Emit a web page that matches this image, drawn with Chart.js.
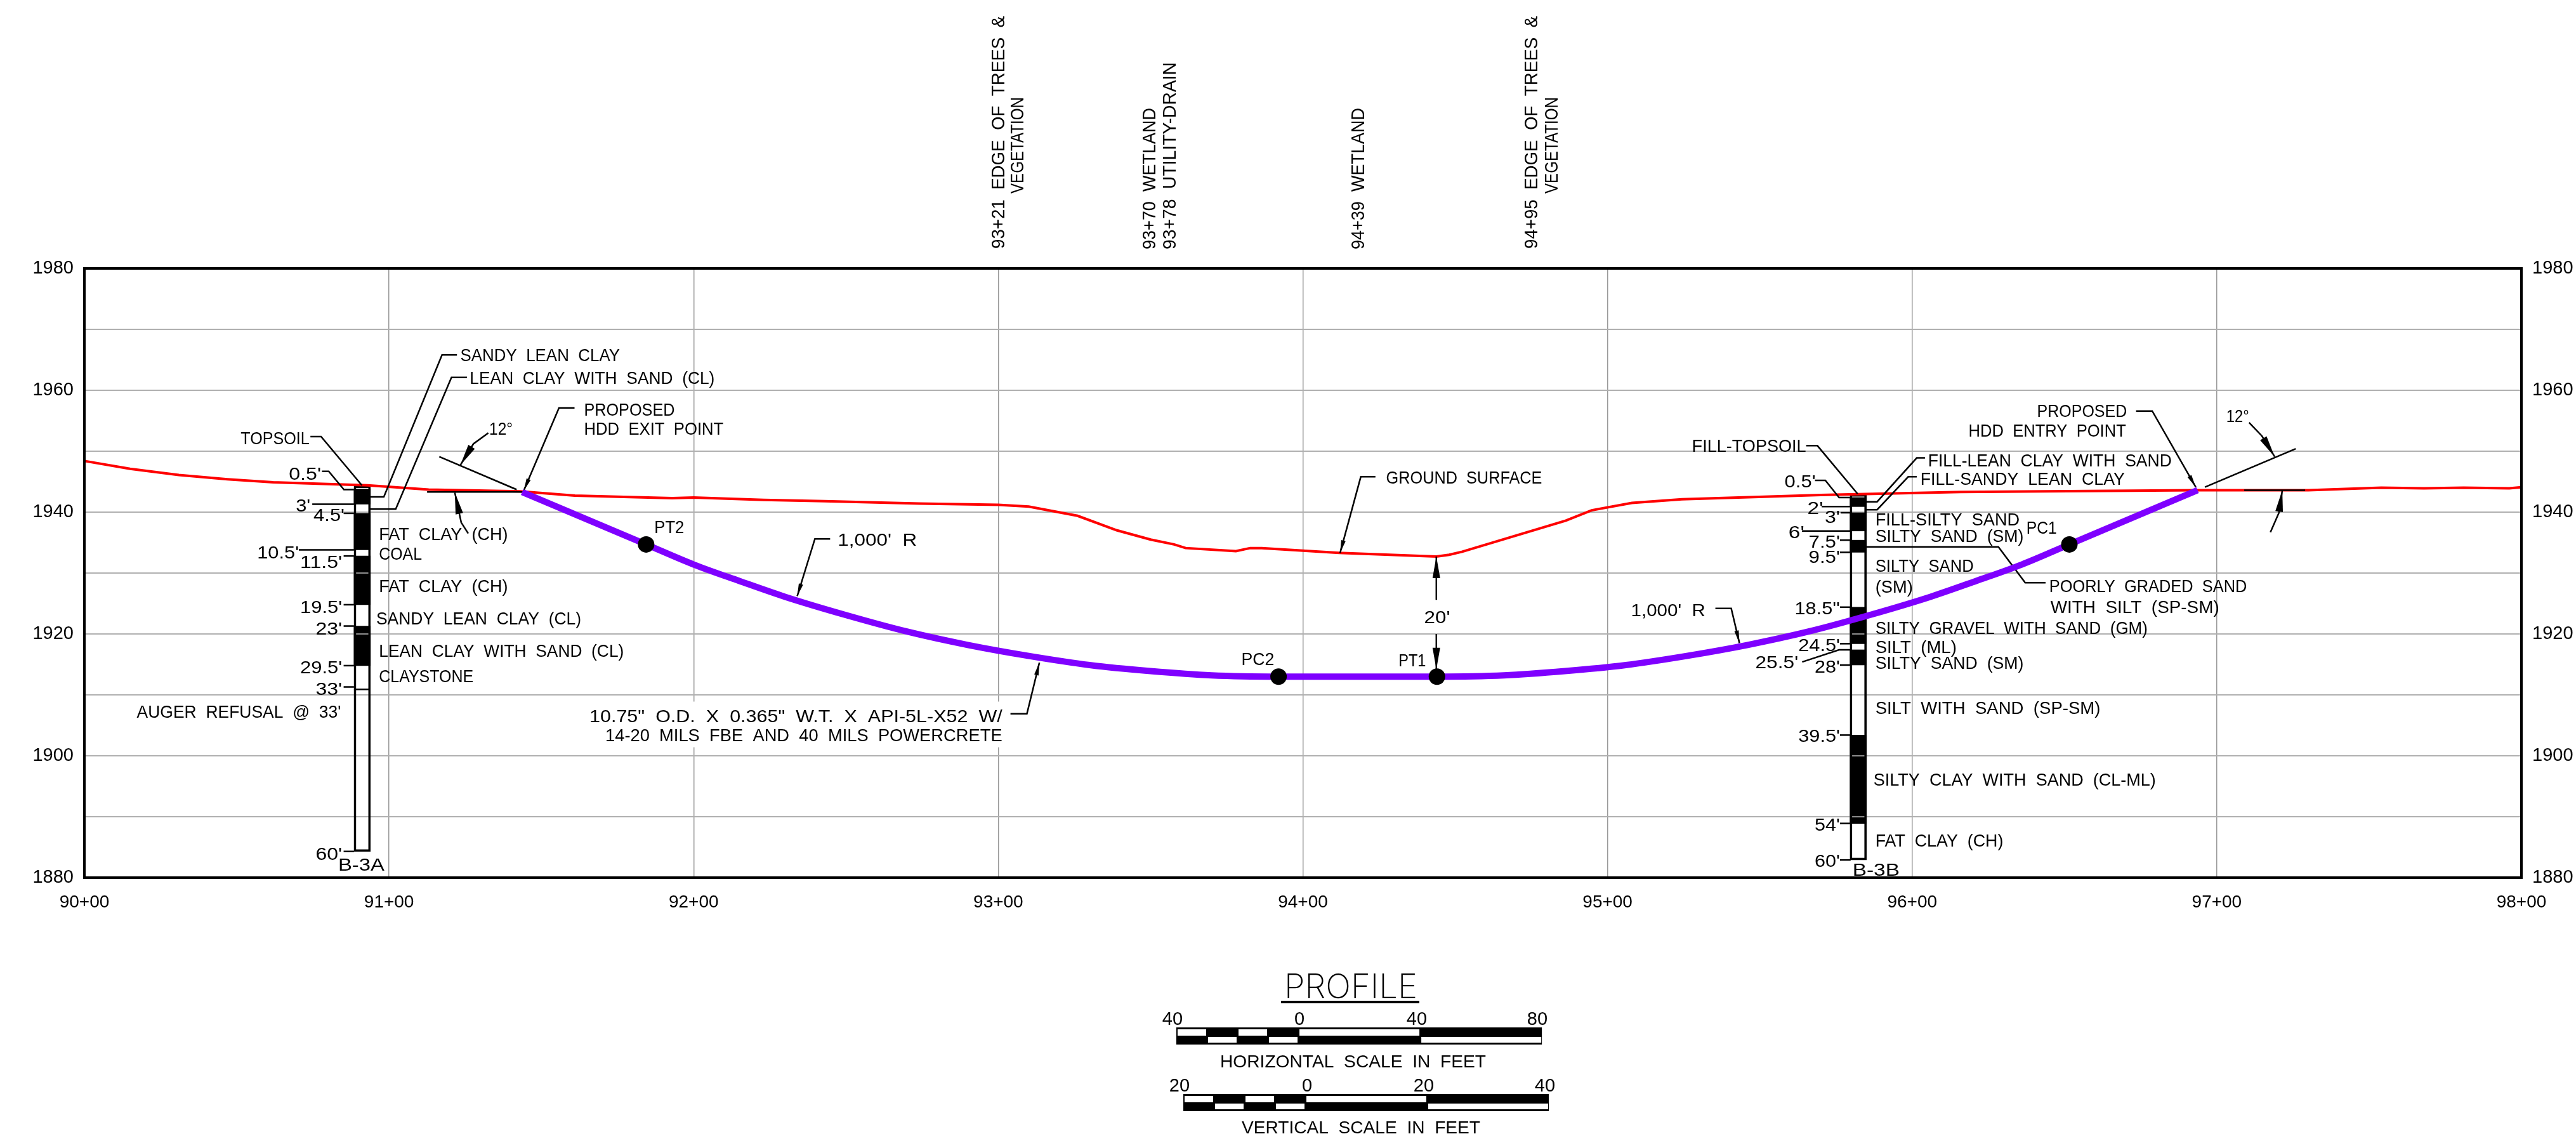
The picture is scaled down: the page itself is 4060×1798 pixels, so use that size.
<!DOCTYPE html>
<html>
<head>
<meta charset="utf-8">
<title>Profile</title>
<script src="https://cdn.jsdelivr.net/npm/chart.js@4/dist/chart.umd.min.js"></script>
<style>
  html, body { margin: 0; padding: 0; background: #fff; }
  canvas { display: block; }
</style>
</head>
<body>
<canvas id="profile" width="4060" height="1798"></canvas>
<script>
// axis
const xTickLabels = ['90+00', '91+00', '92+00', '93+00', '94+00', '95+00', '96+00', '97+00', '98+00'];
const yTickLabels = [1880, 1900, 1920, 1940, 1960, 1980];

// ground surface (station in feet, elevation in feet)
const groundStations = [9000, 9015, 9031, 9047, 9062, 9093, 9113, 9143, 9161, 9193, 9200, 9223, 9243, 9274, 9300, 9310, 9326, 9339, 9350, 9357.7, 9361.5, 9378, 9382.7, 9386.5, 9411.9, 9443.8, 9448, 9452.3, 9486.3, 9494.8, 9508, 9524.4, 9570, 9616, 9693, 9730, 9754, 9768, 9781, 9796, 9800];
const groundElevations = [1948.4, 1947.1, 1946.1, 1945.4, 1944.9, 1944.4, 1943.7, 1943.4, 1942.7, 1942.3, 1942.4, 1942, 1941.8, 1941.4, 1941.2, 1940.9, 1939.4, 1937, 1935.5, 1934.7, 1934.1, 1933.6, 1934.1, 1934.1, 1933.3, 1932.7, 1933, 1933.5, 1938.6, 1940.3, 1941.5, 1942.1, 1942.8, 1943.3, 1943.6, 1943.6, 1944, 1943.9, 1944, 1943.9, 1944.1];

// proposed pipe
const pipeStations = [9143.7, 9184.4, 9200, 9215, 9230, 9250, 9270, 9290, 9310, 9330, 9350, 9370, 9392, 9444, 9466, 9486, 9506, 9526, 9546, 9566, 9586, 9606, 9621, 9636, 9651.6, 9693.7];
const pipeElevations = [1943.3, 1934.7, 1931.4, 1928.7, 1926.1, 1923.1, 1920.4, 1918.2, 1916.4, 1914.9, 1913.9, 1913.2, 1913, 1913, 1913.2, 1913.9, 1914.9, 1916.4, 1918.2, 1920.4, 1923.1, 1926.1, 1928.7, 1931.4, 1934.7, 1943.6];

const curveNames = ['PT2', 'PC2', 'PT1', 'PC1'];
const curveStations = [9184.4, 9392, 9444, 9651.6];
const curveElevations = [1934.7, 1913, 1913, 1934.7];

// borings: depth below top of hole
const boreAStation = 9091.2, boreATop = 1944.3, boreABottom = 60;
const boreADark = [[0.5, 3], [4.5, 10.5], [11.5, 19.5], [23, 29.5]];
const boreATicks = [[4.5, 9085.1], [11.5, 9085.1], [19.5, 9085.1], [23, 9085.1], [29.5, 9085.1], [33, 9085.1], [60, 9085.1], [3, 9074.8], [10.5, 9070.4]];
const boreAGridMarks = [1930, 1920];

const boreBStation = 9582.3, boreBTop = 1942.9, boreBBottom = 60;
const boreBDark = [[0.5, 2], [3, 6], [7.5, 9.5], [18.5, 24.5], [25.5, 28], [39.5, 54]];
const boreBTicks = [[2, 9570.3], [3, 9576.5], [6, 9563.8], [7.5, 9576.3], [9.5, 9576.3], [18.5, 9576.3], [24.5, 9576.3], [28, 9576.3], [39.5, 9576.3], [54, 9576.3], [60, 9576.3]];
const boreBGridMarks = [1920, 1900, 1890];

// leader lines, [station, elevation] per point
const plainLeaders = [
  [[9074.2, 1952.4], [9077.7, 1952.4], [9091.1, 1944.4]],
  [[9078, 1946.7], [9080.2, 1946.7], [9085.2, 1943.7], [9088.5, 1943.7]],
  [[9122.3, 1965.8], [9117.4, 1965.8], [9098.3, 1942.5], [9093.8, 1942.5]],
  [[9125.6, 1962.1], [9120.5, 1962.1], [9102.2, 1940.5], [9093.8, 1940.5]],
  [[9088.5, 1910.9], [9093.8, 1910.9]],
  [[9116.5, 1949.1], [9141.9, 1943.7]],
  [[9112.5, 1943.3], [9144.2, 1943.3]],
  [[9568.1, 1945.2], [9571.5, 1945.2], [9576, 1942.4], [9579.6, 1942.4]],
  [[9565.2, 1950.9], [9568.9, 1950.9], [9582.1, 1943]],
  [[9604.2, 1948.9], [9601.5, 1948.9], [9588.5, 1941.7], [9585, 1941.7]],
  [[9601.5, 1945.8], [9598.7, 1945.8], [9588.5, 1940.4], [9585, 1940.4]],
  [[9584.8, 1934.3], [9628.3, 1934.3], [9637.1, 1928.4], [9643.8, 1928.4]],
  [[9563.9, 1915.4], [9576, 1917.4], [9579.8, 1917.4]],
  [[9696.1, 1944.1], [9725.9, 1950.4]],
  [[9709, 1943.6], [9729, 1943.6]]
];
const smallArrows = [
  [[9160.9, 1957.1], [9155.8, 1957.1], [9144.2, 1943.5]],
  [[9244.8, 1935.6], [9239.8, 1935.6], [9234, 1926.2]],
  [[9304, 1906.9], [9309.4, 1906.9], [9313.5, 1915.3]],
  [[9423.8, 1945.8], [9419, 1945.8], [9412.2, 1933.3]],
  [[9535.4, 1924.2], [9540.6, 1924.2], [9543.3, 1918.5]],
  [[9673.5, 1956.6], [9678.8, 1956.6], [9693.1, 1944.1]]
];
const bigArrows = [
  [[9132.6, 1953], [9127.7, 1951.2], [9123.4, 1947.7]],
  [[9126, 1936.5], [9123.7, 1938.3], [9121.6, 1943.2]],
  [[9443.8, 1925.6], [9443.8, 1932.7]],
  [[9443.8, 1920], [9443.8, 1914.2]],
  [[9710.6, 1954.7], [9714.8, 1952.5], [9719, 1949.1]],
  [[9717.6, 1936.7], [9720.4, 1939.9], [9721.5, 1943.6]]
];

// notes: from station, to station, baseline elevation, text
const leftNotes = [
  [9123.4, 9175.8, 1964.8, 'SANDY LEAN CLAY'],
  [9126.5, 9206.9, 1961, 'LEAN CLAY WITH SAND (CL)'],
  [9164, 9193.8, 1955.8, 'PROPOSED'],
  [9164, 9209.8, 1952.7, 'HDD EXIT POINT'],
  [9132.9, 9140.6, 1952.7, '12°'],
  [9051.3, 9073.9, 1951.1, 'TOPSOIL'],
  [9067.1, 9077.7, 1945.3, "0.5'"],
  [9069.4, 9074.2, 1940.1, "3'"],
  [9075.2, 9085.4, 1938.5, "4.5'"],
  [9096.7, 9139, 1935.4, 'FAT CLAY (CH)'],
  [9056.7, 9070.4, 1932.4, "10.5'"],
  [9096.7, 9110.8, 1932.2, 'COAL'],
  [9070.8, 9084.6, 1930.8, "11.5'"],
  [9096.7, 9139, 1926.9, 'FAT CLAY (CH)'],
  [9070.8, 9084.6, 1923.4, "19.5'"],
  [9095.8, 9163.1, 1921.6, 'SANDY LEAN CLAY (CL)'],
  [9075.9, 9084.6, 1919.9, "23'"],
  [9096.7, 9177.1, 1916.3, 'LEAN CLAY WITH SAND (CL)'],
  [9070.8, 9084.6, 1913.5, "29.5'"],
  [9096.7, 9127.7, 1912.1, 'CLAYSTONE'],
  [9075.9, 9084.6, 1910, "33'"],
  [9017.2, 9084.2, 1906.2, "AUGER REFUSAL @ 33'"],
  [9075.9, 9084.6, 1882.9, "60'"],
  [9083.3, 9098.5, 1881.1, 'B-3A'],
  [9187.1, 9196.9, 1936.6, 'PT2'],
  [9247.3, 9273.3, 1934.5, "1,000' R"],
  [9165.8, 9301.3, 1905.5, '10.75" O.D. X 0.365" W.T. X API-5L-X52 W/'],
  [9171, 9301.3, 1902.4, '14-20 MILS FBE AND 40 MILS POWERCRETE']
];
const middleNotes = [
  [9379.8, 9390.6, 1914.9, 'PC2'],
  [9431.4, 9440.4, 1914.7, 'PT1'],
  [9427.3, 9478.5, 1944.7, 'GROUND SURFACE'],
  [9439.8, 9448.3, 1921.8, "20'"]
];
const rightNotes = [
  [9641, 9670.5, 1955.6, 'PROPOSED'],
  [9618.5, 9670.2, 1952.4, 'HDD ENTRY POINT'],
  [9703.1, 9710.6, 1954.8, '12°'],
  [9527.7, 9565.2, 1949.9, 'FILL-TOPSOIL'],
  [9605.2, 9685.2, 1947.5, 'FILL-LEAN CLAY WITH SAND'],
  [9602.7, 9669.8, 1944.5, 'FILL-SANDY LEAN CLAY'],
  [9558.1, 9568.3, 1944.1, "0.5'"],
  [9565.6, 9570.8, 1939.7, "2'"],
  [9571.3, 9576.3, 1938.2, "3'"],
  [9587.9, 9635.3, 1937.8, 'FILL-SILTY SAND'],
  [9637.5, 9647.5, 1936.5, 'PC1'],
  [9559.4, 9564.6, 1935.7, "6'"],
  [9587.9, 9636.6, 1935.1, 'SILTY SAND (SM)'],
  [9566, 9576.3, 1934.2, "7.5'"],
  [9566, 9576.3, 1931.7, "9.5'"],
  [9587.9, 9620.2, 1930.2, 'SILTY SAND'],
  [9587.9, 9600.2, 1926.8, '(SM)'],
  [9645, 9709.9, 1926.9, 'POORLY GRADED SAND'],
  [9645.4, 9700.8, 1923.4, 'WITH SILT (SP-SM)'],
  [9561.4, 9576.3, 1923.2, "18.5''"],
  [9507.7, 9532.1, 1922.9, "1,000' R"],
  [9587.9, 9677.3, 1920, 'SILTY GRAVEL WITH SAND (GM)'],
  [9562.6, 9576.3, 1917.2, "24.5'"],
  [9587.9, 9614.6, 1916.9, 'SILT (ML)'],
  [9587.9, 9636.6, 1914.3, 'SILTY SAND (SM)'],
  [9548.5, 9562.6, 1914.4, "25.5'"],
  [9568, 9576.3, 1913.6, "28'"],
  [9587.9, 9661.8, 1906.9, 'SILT WITH SAND (SP-SM)'],
  [9562.6, 9576.3, 1902.3, "39.5'"],
  [9587.3, 9680, 1895.1, 'SILTY CLAY WITH SAND (CL-ML)'],
  [9568, 9576.3, 1887.7, "54'"],
  [9587.9, 9629.9, 1885.1, 'FAT CLAY (CH)'],
  [9568, 9576.3, 1881.8, "60'"],
  [9580.4, 9595.9, 1880.3, 'B-3B']
];

// rotated notes above the plot: text, baseline x, start y, end y
const topNotes = [
  ['93+21 EDGE OF TREES &', 1583, 392, 25],
  ['VEGETATION', 1613, 305, 153],
  ['93+70 WETLAND', 1821, 393, 170],
  ['93+78 UTILITY-DRAIN', 1853, 393, 98],
  ['94+39 WETLAND', 2150, 393, 170],
  ['94+95 EDGE OF TREES &', 2423, 392, 25],
  ['VEGETATION', 2455, 305, 153]
];

// scale bars, cell lengths in feet
const horizontalBarFeet = [10, 10, 10, 10, 40, 40];
const horizontalBarLabels = ['40', '0', '40', '80'];
const verticalBarFeet = [5, 5, 5, 5, 20, 20];
const verticalBarLabels = ['20', '0', '20', '40'];

const FONT = '"Liberation Sans"';
const toPoints = (pts) => pts.map(p => ({ x: p[0], y: p[1] }));

function lineSet(pts, color, width, order) {
  return {
    type: 'line',
    data: toPoints(pts),
    borderColor: color,
    borderWidth: width,
    pointRadius: 0,
    tension: 0,
    fill: false,
    order: order,
    clip: false
  };
}

function barSet(data, color, order, border) {
  return {
    type: 'bar',
    data: data,
    backgroundColor: color,
    borderColor: '#000',
    borderWidth: border,
    borderSkipped: false,
    barThickness: 26,
    grouped: false,
    order: order
  };
}

const boreDark = boreADark.map(d => ({ x: boreAStation, y: [boreATop - d[0], boreATop - d[1]] }))
  .concat(boreBDark.map(d => ({ x: boreBStation, y: [boreBTop - d[0], boreBTop - d[1]] })));
const boreOutline = [
  { x: boreAStation, y: [boreATop, boreATop - boreABottom] },
  { x: boreBStation, y: [boreBTop, boreBTop - boreBBottom] }
];
const boreMarks = boreAGridMarks.map(e => ({ x: boreAStation, y: [e - 0.08, e + 0.08] }))
  .concat(boreBGridMarks.map(e => ({ x: boreBStation, y: [e - 0.08, e + 0.08] })));

const tickLines = boreATicks.map(t => [[t[1], boreATop - t[0]], [9088.5, boreATop - t[0]]])
  .concat(boreBTicks.map(t => [[t[1], boreBTop - t[0]], [9579.8, boreBTop - t[0]]]));

const datasets = [
  barSet(boreDark, '#000', 8, 0),
  barSet(boreMarks, '#8a8a8a', 7, 0),
  barSet(boreOutline, 'rgba(0,0,0,0)', 6, 3),
  lineSet(groundStations.map((s, i) => [s, groundElevations[i]]), '#ff0000', 4, 5)
];
plainLeaders.concat(tickLines, smallArrows, bigArrows).forEach(l => datasets.push(lineSet(l, '#000', 2.5, 4)));
const pipeSet = lineSet(pipeStations.map((s, i) => [s, pipeElevations[i]]), '#7f00ff', 10, 2);
pipeSet.cubicInterpolationMode = 'monotone';
datasets.push(pipeSet);
datasets.push({
  type: 'scatter',
  label: curveNames.join(' '),
  data: curveStations.map((s, i) => ({ x: s, y: curveElevations[i] })),
  pointRadius: 13,
  pointBackgroundColor: '#000',
  pointBorderWidth: 0,
  showLine: false,
  order: 1
});

// stretch text to the width it has on the sheet
function fitText(ctx, text, x0, x1, y, size, family, weight) {
  ctx.save();
  ctx.font = (weight || 400) + ' ' + size + 'px ' + (family || FONT);
  ctx.wordSpacing = (size * 0.28) + 'px';
  ctx.textAlign = 'left';
  ctx.textBaseline = 'alphabetic';
  ctx.fillStyle = '#000';
  const w = ctx.measureText(text).width;
  ctx.translate(x0, y);
  ctx.scale((x1 - x0) / w, 1);
  ctx.fillText(text, 0, 0);
  ctx.restore();
}

function arrowHead(ctx, from, to, len, wide) {
  const a = Math.atan2(to.y - from.y, to.x - from.x);
  ctx.save();
  ctx.translate(to.x, to.y);
  ctx.rotate(a);
  ctx.beginPath();
  ctx.moveTo(0, 0);
  ctx.lineTo(-len, -wide / 2);
  ctx.lineTo(-len, wide / 2);
  ctx.closePath();
  ctx.fillStyle = '#000';
  ctx.fill();
  ctx.restore();
}

function scaleBar(ctx, cells, labels, left, top, pxPerFoot, labelY, caption, capX0, capX1, capY, labelXs) {
  const total = cells.reduce((a, b) => a + b, 0) * pxPerFoot;
  ctx.fillStyle = '#000';
  ctx.fillRect(left, top, total, 27);
  ctx.fillStyle = '#fff';
  let x = left;
  cells.forEach((ft, i) => {
    const w = ft * pxPerFoot;
    if (i % 2 === 0) ctx.fillRect(x + 2, top + 3, w - 3, 10);
    else ctx.fillRect(x + 2, top + 15, w - 3, 9);
    x += w;
  });
  ctx.font = '29px ' + FONT;
  ctx.textAlign = 'center';
  ctx.fillStyle = '#000';
  labels.forEach((t, i) => ctx.fillText(t, labelXs[i], labelY));
  fitText(ctx, caption, capX0, capX1, capY, 28);
}

const sheetPlugin = {
  id: 'sheet',
  beforeDatasetsDraw(chart) {
    // the pipe note knocks out the vertical grid behind it
    const { ctx, scales: { x, y } } = chart;
    ctx.save();
    ctx.fillStyle = '#fff';
    const x0 = x.getPixelForValue(9165), x1 = x.getPixelForValue(9302);
    const y0 = y.getPixelForValue(1908.9), y1 = y.getPixelForValue(1901.4);
    ctx.fillRect(x0, y0, x1 - x0, y1 - y0);
    ctx.restore();
  },
  afterDatasetsDraw(chart) {
    const { ctx, chartArea: a, scales: { x, y } } = chart;
    const px = (p) => ({ x: x.getPixelForValue(p[0]), y: y.getPixelForValue(p[1]) });
    ctx.save();
    ctx.strokeStyle = '#000';
    ctx.lineWidth = 4;
    ctx.strokeRect(a.left, a.top, a.right - a.left, a.bottom - a.top);

    smallArrows.forEach(l => arrowHead(ctx, px(l[l.length - 2]), px(l[l.length - 1]), 20, 7));
    bigArrows.forEach(l => arrowHead(ctx, px(l[l.length - 2]), px(l[l.length - 1]), 34, 12));

    leftNotes.concat(middleNotes, rightNotes).forEach(n => {
      fitText(ctx, n[3], x.getPixelForValue(n[0]), x.getPixelForValue(n[1]), y.getPixelForValue(n[2]), 28);
    });

    topNotes.forEach(n => {
      ctx.save();
      ctx.translate(n[1], n[2]);
      ctx.rotate(-Math.PI / 2);
      fitText(ctx, n[0], 0, n[2] - n[3], 0, 30);
      ctx.restore();
    });

    // title and scale bars under the plot
    fitText(ctx, 'PROFILE', 2024, 2234, 1573, 53, 'Inter', 200);
    ctx.fillStyle = '#000';
    ctx.fillRect(2019, 1577, 218, 4);
    const feetX = (a.right - a.left) / (x.max - x.min);
    const feetY = (a.bottom - a.top) / (y.max - y.min);
    scaleBar(ctx, horizontalBarFeet, horizontalBarLabels, 1854, 1619, feetX, 1615,
      'HORIZONTAL SCALE IN FEET', 1923, 2342, 1682, [1848, 2048, 2233, 2423]);
    scaleBar(ctx, verticalBarFeet, verticalBarLabels, 1865, 1724, feetY, 1720,
      'VERTICAL SCALE IN FEET', 1957, 2333, 1786, [1859, 2060, 2244, 2435]);
    ctx.restore();
  }
};

new Chart(document.getElementById('profile').getContext('2d'), {
  type: 'line',
  data: { datasets: datasets },
  plugins: [sheetPlugin],
  options: {
    responsive: false,
    animation: false,
    devicePixelRatio: 1,
    layout: { padding: { top: 423 } },
    plugins: { legend: { display: false }, tooltip: { enabled: false }, title: { display: false } },
    scales: {
      x: {
        type: 'linear',
        offset: false,
        min: 9000,
        max: 9800,
        afterFit: (s) => { s.height = 415; },
        afterBuildTicks: (s) => { s.ticks = xTickLabels.map((t, i) => ({ value: 9000 + i * 100 })); },
        grid: { color: '#9a9a9a', lineWidth: 1.5, drawTicks: false, offset: false },
        border: { display: false },
        ticks: {
          callback: (v) => xTickLabels[(v - 9000) / 100],
          autoSkip: false,
          maxRotation: 0,
          padding: 22,
          color: '#000',
          font: { family: 'Liberation Sans', size: 28 }
        }
      },
      y: {
        type: 'linear',
        position: 'left',
        min: 1880,
        max: 1980,
        afterFit: (s) => { s.width = 133; },
        grid: { color: '#b0b0b0', lineWidth: 2, drawTicks: false },
        border: { display: false },
        ticks: {
          stepSize: 10,
          autoSkip: false,
          padding: 17,
          color: '#000',
          callback: (v) => yTickLabels.includes(v) ? String(v) : '',
          font: { family: 'Liberation Sans', size: 29 }
        }
      },
      y2: {
        type: 'linear',
        position: 'right',
        min: 1880,
        max: 1980,
        afterFit: (s) => { s.width = 86; },
        grid: { display: false, drawTicks: false },
        border: { display: false },
        ticks: {
          stepSize: 10,
          autoSkip: false,
          padding: 17,
          color: '#000',
          callback: (v) => yTickLabels.includes(v) ? String(v) : '',
          font: { family: 'Liberation Sans', size: 29 }
        }
      }
    }
  }
});
</script>
</body>
</html>
